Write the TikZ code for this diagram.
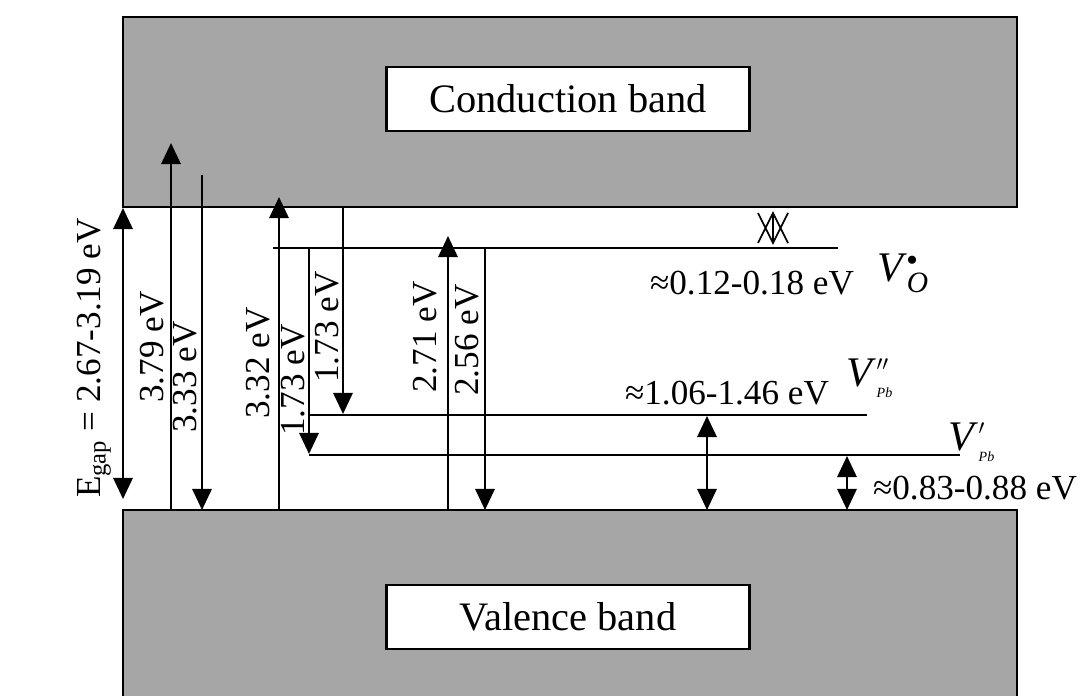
\documentclass[tikz,border=0pt]{standalone}
\usepackage{amsmath}
\usepackage{fontspec}
\setmainfont{Liberation Serif}
\definecolor{bandgray}{RGB}{166,166,166}
\usetikzlibrary{arrows.meta}
\tikzset{
  >={Triangle[length=12pt,width=11pt]},
  band/.style={fill=bandgray, draw=black, line width=1.6pt},
  bandlabel/.style={draw=black, fill=white, line width=1.6pt,
                    minimum width=7.26cm, minimum height=1.28cm, inner sep=0pt,
                    font=\fontsize{23}{27}\selectfont},
  level/.style={line width=1.6pt},
  trans/.style={->, line width=1.3pt},
  gaparrow/.style={<->, line width=1.3pt},
  elabel/.style={rotate=90, inner sep=0pt, font=\fontsize{20}{24}\selectfont},
  depthlabel/.style={inner sep=0pt, font=\fontsize{20}{24}\selectfont},
  defect/.style={inner sep=0pt, font=\fontsize{24}{28}\selectfont},
}
\newcommand{\pbsub}{\text{\fontsize{8}{8}\selectfont\textit{Pb}}}
\begin{document}
\begin{tikzpicture}[x=0.02cm, y=-0.02cm]
  \useasboundingbox (0,0) rectangle (1080,696);

  % bands
  \filldraw[band] (123,17) rectangle (1017,207);
  \filldraw[band] (123,510) rectangle (1017,710);
  \node[bandlabel] (cblabel) at (568,99) {Conduction band};
  \node[bandlabel] (vblabel) at (568,617) {Valence band};

  % defect levels
  \coordinate (vo-l) at (273,248);   \coordinate (vo-r) at (838,248);
  \coordinate (pbb-l) at (309,415);  \coordinate (pbb-r) at (867,415);
  \coordinate (pba-l) at (309,455);  \coordinate (pba-r) at (960,455);
  \draw[level] (vo-l) -- (vo-r);
  \draw[level] (pbb-l) -- (pbb-r);
  \draw[level] (pba-l) -- (pba-r);

  % band gap
  \coordinate (gap-t) at (123,208);
  \coordinate (gap-b) at (123,499);
  \draw[gaparrow] (gap-t) -- (gap-b);
  \node[elabel] (gaplabel) at (94,358) {E$_{\text{gap}}$ = 2.67-3.19 eV};

  % transitions
  \coordinate (t379-b) at (171,510); \coordinate (t379-t) at (171,143);
  \draw[trans] (t379-b) -- (t379-t);
  \node[elabel] at (152,347) {3.79 eV};

  \coordinate (t333-t) at (202,175); \coordinate (t333-b) at (202,510);
  \draw[trans] (t333-t) -- (t333-b);
  \node[elabel] at (185,377) {3.33 eV};

  \coordinate (t332-b) at (279,510); \coordinate (t332-t) at (279,197);
  \draw[trans] (t332-b) -- (t332-t);
  \node[elabel] at (258,363) {3.32 eV};

  \coordinate (t173a-t) at (309,248); \coordinate (t173a-b) at (309,454);
  \draw[trans] (t173a-t) -- (t173a-b);
  \node[elabel] at (293,380) {1.73 eV};

  \coordinate (t173b-t) at (343,207); \coordinate (t173b-b) at (343,414);
  \draw[trans] (t173b-t) -- (t173b-b);
  \node[elabel] at (327,327) {1.73 eV};

  \coordinate (t271-b) at (448,510); \coordinate (t271-t) at (448,236);
  \draw[trans] (t271-b) -- (t271-t);
  \node[elabel] at (425,337) {2.71 eV};

  \coordinate (t256-t) at (485,248); \coordinate (t256-b) at (485,510);
  \draw[trans] (t256-t) -- (t256-b);
  \node[elabel] at (467,340) {2.56 eV};

  % depths below CB / above VB
  \draw[line width=1pt] (758,243) -- (773,213) -- (788,243)
                        (758,213) -- (773,243) -- (788,213)
                        (773,213) -- (773,243);
  \coordinate (d106-t) at (707,416); \coordinate (d106-b) at (707,510);
  \draw[gaparrow] (d106-t) -- (d106-b);
  \coordinate (d083-t) at (847,456); \coordinate (d083-b) at (847,510);
  \draw[gaparrow] (d083-t) -- (d083-b);

  \node[depthlabel] (vodepth) at (752,283) {≈0.12-0.18 eV};
  \node[depthlabel] (pbbdepth) at (727,393) {≈1.06-1.46 eV};
  \node[depthlabel] (pbadepth) at (975,488) {≈0.83-0.88 eV};

  \node[defect] (vo) at (903,273)
    {\textit{V}$_{\textit{O}}^{\scriptscriptstyle\bullet}$};
  \node[defect] (pbb) at (870,378)
    {\textit{V}$_{\pbsub}^{\scriptscriptstyle\prime\prime}$};
  \node[defect] (pba) at (972,442)
    {\textit{V}$_{\pbsub}^{\scriptscriptstyle\prime}$};
\end{tikzpicture}
\end{document}
